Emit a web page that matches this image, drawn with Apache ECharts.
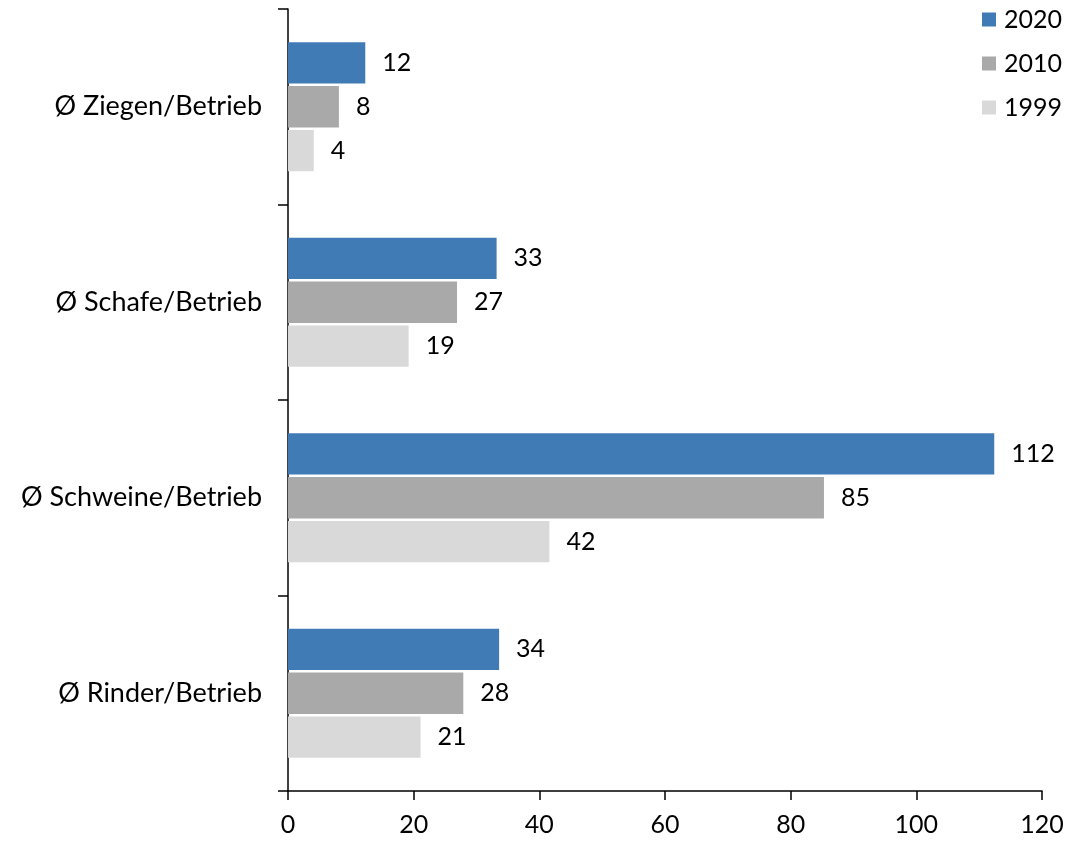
<!DOCTYPE html>
<html>
<head>
<meta charset="utf-8">
<script src="https://cdn.jsdelivr.net/npm/echarts@6/dist/echarts.min.js"></script>
<style>html,body{margin:0;padding:0;background:#fff;}#c{width:1091px;height:842px;}</style>
</head>
<body>
<div id="c"></div>
<script>
var categories = ['Ø Rinder/Betrieb', 'Ø Schweine/Betrieb', 'Ø Schafe/Betrieb', 'Ø Ziegen/Betrieb'];
var seriesNames = ['2020', '2010', '1999'];
var values2020 = [33.6, 112.4, 33.2, 12.3];
var values2010 = [27.9, 85.3, 26.9, 8.1];
var values1999 = [21.1, 41.6, 19.2, 4.1];
var xTicks = [0, 20, 40, 60, 80, 100, 120];
var colors = ['#417BB5', '#A9A9A9', '#D9D9D9'];

var FONT = 'Lato';
var chart = echarts.init(document.getElementById('c'));
function mk(name, data, color) {
  return {
    name: name, type: 'bar', data: data,
    barGap: '6%', barCategoryGap: '34%',
    itemStyle: { color: color },
    label: { show: true, position: 'right', distance: 17, color: '#000', fontFamily: FONT, fontSize: 25,
      formatter: function (p) { return Math.round(p.value); } }
  };
}
chart.setOption({
  animation: false,
  backgroundColor: '#fff',
  textStyle: { fontFamily: FONT },
  grid: { left: 288, right: 49, top: 9, bottom: 51, containLabel: false },
  legend: {
    orient: 'vertical', left: 977, top: 2, icon: 'rect', itemWidth: 14, itemHeight: 14, itemGap: 19,
    textStyle: { fontFamily: FONT, fontSize: 25, lineHeight: 25, color: '#000', padding: [0,0,0,3] },
    data: seriesNames
  },
  xAxis: {
    type: 'value', min: xTicks[0], max: xTicks[xTicks.length - 1], interval: 20,
    splitLine: { show: false },
    axisLine: { show: true, lineStyle: { color: '#000', width: 1.5 } },
    axisTick: { show: true, length: 9, lineStyle: { color: '#000', width: 1.5 } },
    axisLabel: { margin: 21, color: '#000', fontFamily: FONT, fontSize: 25 }
  },
  yAxis: {
    type: 'category', data: categories,
    axisLine: { show: true, lineStyle: { color: '#000', width: 1.5 } },
    axisTick: { show: true, length: 10, lineStyle: { color: '#000', width: 1.5 } },
    axisLabel: { margin: 26, color: '#000', fontFamily: FONT, fontSize: 27 }
  },
  series: [mk(seriesNames[0], values2020, colors[0]), mk(seriesNames[1], values2010, colors[1]), mk(seriesNames[2], values1999, colors[2])]
});
</script>
</body>
</html>
